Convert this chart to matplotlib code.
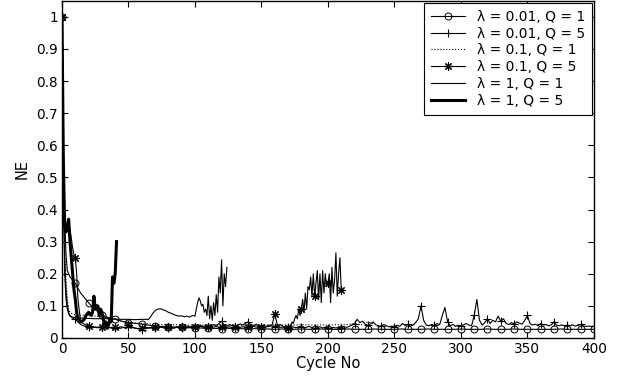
import numpy as np
import matplotlib
matplotlib.use("Agg")
import matplotlib.pyplot as plt

plt.rcParams['font.family'] = ['DejaVu Sans']

# lambda = 0.01, Q = 1
a_x = [0, 1, 2, 3, 4, 5, 6, 8, 10, 12, 14, 16, 18, 20, 22, 24, 26, 28, 30, 33, 36, 40, 45]
a_y = [1.0, 0.62, 0.38, 0.26, 0.21, 0.20, 0.19, 0.18, 0.17, 0.155, 0.14, 0.13, 0.12, 0.11,
       0.10, 0.092, 0.085, 0.078, 0.072, 0.066, 0.062, 0.058, 0.052]
a_x += list(range(50, 401, 5))
a_y += [0.048, 0.046, 0.043, 0.04, 0.037, 0.036, 0.035, 0.034, 0.033, 0.032,
        0.031, 0.031, 0.030, 0.030, 0.029, 0.030, 0.029, 0.029, 0.028, 0.029,
        0.028, 0.028, 0.027, 0.028, 0.027, 0.027, 0.028, 0.027, 0.027, 0.028,
        0.027, 0.027, 0.027, 0.028, 0.027, 0.027, 0.027, 0.028, 0.027, 0.027,
        0.027, 0.028, 0.027, 0.027, 0.027, 0.028, 0.027, 0.027, 0.027, 0.027,
        0.028, 0.027, 0.027, 0.027, 0.028, 0.027, 0.027, 0.027, 0.028, 0.027,
        0.027, 0.027, 0.027, 0.027, 0.027, 0.028, 0.027, 0.027, 0.027, 0.027, 0.027]

# lambda = 0.01, Q = 5
b_x = [0, 1, 2, 3, 4, 5, 6, 8] + list(range(10, 401, 2))
b_y = [1.0, 0.45, 0.2, 0.12, 0.09, 0.075, 0.068, 0.062,
       0.058, 0.05, 0.042, 0.038, 0.036,
       0.034, 0.033, 0.035, 0.032, 0.034,
       0.033, 0.031, 0.034, 0.032, 0.033,
       0.030, 0.032, 0.035, 0.033, 0.031,
       0.034, 0.036, 0.032, 0.030, 0.028,
       0.026, 0.030, 0.033, 0.031, 0.034,
       0.032, 0.030, 0.034, 0.036, 0.033,
       0.031, 0.035, 0.030, 0.033, 0.036,
       0.030, 0.032, 0.038, 0.034, 0.031,
       0.033, 0.036, 0.040, 0.035, 0.038,
       0.034, 0.037, 0.042, 0.039, 0.045,
       0.052, 0.040, 0.037, 0.042, 0.038,
       0.035, 0.039, 0.044, 0.040, 0.046,
       0.050, 0.041, 0.038, 0.043, 0.036,
       0.034, 0.038, 0.036, 0.040, 0.037,
       0.035, 0.039, 0.042, 0.037, 0.034,
       0.033, 0.036, 0.034, 0.032, 0.035,
       0.033, 0.031, 0.034, 0.036, 0.032,
       0.030, 0.033, 0.035, 0.031, 0.034,
       0.032, 0.030, 0.033, 0.031, 0.034,
       0.032, 0.035, 0.033, 0.036, 0.040,
       0.045, 0.058, 0.048, 0.052, 0.043,
       0.040, 0.044, 0.050, 0.041, 0.038,
       0.036, 0.042, 0.038, 0.035, 0.037,
       0.034, 0.040, 0.036, 0.045, 0.039,
       0.042, 0.037, 0.040, 0.048, 0.060,
       0.100, 0.055, 0.040, 0.038, 0.042,
       0.039, 0.045, 0.041, 0.070, 0.095,
       0.050, 0.038, 0.042, 0.036, 0.040,
       0.037, 0.041, 0.045, 0.040, 0.038,
       0.070, 0.120, 0.055, 0.040, 0.048,
       0.060, 0.045, 0.055, 0.050, 0.068,
       0.052, 0.060, 0.045, 0.042, 0.048,
       0.044, 0.050, 0.046, 0.043, 0.055,
       0.070, 0.045, 0.040, 0.043, 0.038,
       0.045, 0.040, 0.042, 0.038, 0.041,
       0.050, 0.040, 0.038, 0.041, 0.037,
       0.040, 0.038, 0.041, 0.037, 0.039,
       0.042, 0.038, 0.036, 0.037, 0.036,
       0.036]

# lambda = 0.1, Q = 1
c_x = [0, 1, 2, 3, 4, 5, 6, 8] + list(range(10, 236, 5))
c_y = [1.0, 0.55, 0.3, 0.18, 0.12, 0.09, 0.08, 0.075,
       0.072, 0.071, 0.07, 0.068, 0.066, 0.064, 0.058, 0.052, 0.048, 0.046,
       0.045, 0.044, 0.043, 0.042, 0.042, 0.041, 0.042, 0.040, 0.041, 0.040,
       0.041, 0.040, 0.040, 0.041, 0.040, 0.040, 0.041, 0.040, 0.040, 0.041,
       0.040, 0.040, 0.041, 0.040, 0.042, 0.041, 0.040, 0.041, 0.040, 0.041,
       0.041, 0.042, 0.045, 0.041, 0.050, 0.044]

# lambda = 0.1, Q = 5
d_x = list(range(0, 12)) + list(range(12, 170, 2)) + list(range(170, 211))
d_y = [1.0, 0.6, 0.36, 0.33, 0.35, 0.36, 0.34, 0.31, 0.28, 0.26, 0.25, 0.2,
       0.12, 0.05, 0.045, 0.04,
       0.036, 0.035, 0.033, 0.034, 0.032,
       0.033, 0.031, 0.034, 0.032, 0.031,
       0.033, 0.032, 0.030, 0.033, 0.031,
       0.040, 0.034, 0.031, 0.030, 0.029,
       0.031, 0.033, 0.030, 0.032, 0.031,
       0.033, 0.031, 0.034, 0.032, 0.030,
       0.033, 0.031, 0.032, 0.034, 0.031,
       0.033, 0.035, 0.032, 0.034, 0.036,
       0.035, 0.033, 0.036, 0.034, 0.032,
       0.035, 0.037, 0.034, 0.036, 0.033,
       0.034, 0.036, 0.033, 0.035, 0.032,
       0.034, 0.036, 0.033, 0.035, 0.034,
       0.033, 0.035, 0.036, 0.034, 0.035,
       0.034, 0.033, 0.035, 0.036, 0.040,
       0.075, 0.040, 0.033, 0.034, 0.032,
       0.032, 0.035, 0.04, 0.05, 0.045, 0.06, 0.07, 0.06, 0.09, 0.07,
       0.09, 0.12, 0.08, 0.14, 0.09, 0.16, 0.15, 0.19, 0.13, 0.20,
       0.13, 0.17, 0.21, 0.12, 0.20, 0.11, 0.21, 0.14, 0.20, 0.16,
       0.17, 0.20, 0.11, 0.22, 0.14, 0.18, 0.265, 0.13, 0.20, 0.25,
       0.15]

# lambda = 1, Q = 1
f_x = [0, 1, 2, 3, 4, 5, 6, 8, 10, 15, 20, 25, 30, 35, 40, 45, 50, 55, 60, 65,
       66, 68, 70, 72, 74, 76, 78, 80, 82, 84, 86, 88, 90, 92, 94, 96, 98, 100] + list(range(101, 125))
f_y = [1.0, 0.5, 0.25, 0.15, 0.1, 0.08, 0.07, 0.065, 0.063, 0.062, 0.061, 0.06, 0.06,
       0.06, 0.059, 0.058, 0.058, 0.057, 0.058, 0.058,
       0.062, 0.075, 0.085, 0.09, 0.091, 0.088, 0.085, 0.08, 0.077, 0.073, 0.07, 0.068,
       0.069, 0.066, 0.068, 0.065, 0.07, 0.068,
       0.09, 0.11, 0.125, 0.115, 0.1, 0.105, 0.08, 0.09, 0.07, 0.13, 0.06, 0.1,
       0.055, 0.11, 0.07, 0.135, 0.08, 0.19, 0.14, 0.243, 0.1, 0.2, 0.16, 0.22]

# lambda = 1, Q = 5
e_x = list(range(0, 42))
e_y = [1.0, 0.55, 0.35, 0.33, 0.35, 0.37, 0.3, 0.25, 0.2, 0.15, 0.12, 0.08,
       0.06, 0.055, 0.05, 0.052, 0.055, 0.06, 0.07, 0.075, 0.08, 0.075, 0.07,
       0.08, 0.13, 0.09, 0.1, 0.1, 0.07, 0.09, 0.08, 0.06, 0.04, 0.05, 0.03,
       0.04, 0.06, 0.05, 0.19, 0.17, 0.2, 0.3]

labels = ['\u03bb = 0.01, Q = 1', '\u03bb = 0.01, Q = 5', '\u03bb = 0.1, Q = 1',
          '\u03bb = 0.1, Q = 5', '\u03bb = 1, Q = 1', '\u03bb = 1, Q = 5']


def every10(xs):
    # marker on every 10th cycle
    return [i for i, v in enumerate(xs) if v % 10 == 0]


fig = plt.figure(figsize=(6.17, 3.77), dpi=100)
ax = fig.add_axes([0.1005, 0.1035, 0.862, 0.8945])

ax.plot(a_x, a_y, 'k-', lw=0.8, marker='o', ms=5, mfc='none', mew=0.7,
        markevery=every10(a_x), label=labels[0])
ax.plot(b_x, b_y, 'k-', lw=0.8, marker='+', ms=6, mew=0.8,
        markevery=every10(b_x), label=labels[1])
ax.plot(c_x, c_y, 'k:', lw=0.8, label=labels[2])
ax.plot(d_x, d_y, 'k-', lw=0.8, marker=(8, 2, 0), ms=6, mew=0.8,
        markevery=every10(d_x), label=labels[3])
ax.plot(f_x, f_y, 'k-', lw=0.8, label=labels[4])
ax.plot(e_x, e_y, 'k-', lw=2.2, label=labels[5])

ax.set_xlim(0, 400)
ax.set_ylim(0, 1.05)
ax.set_xticks(np.arange(0, 401, 50))
ax.set_yticks(np.arange(0, 1.01, 0.1))
ax.set_yticklabels(['0', '0.1', '0.2', '0.3', '0.4', '0.5', '0.6', '0.7', '0.8', '0.9', '1'])
ax.tick_params(direction='in', top=True, right=True, length=4, labelsize=9.8, width=0.8, pad=3)
for s in ax.spines.values():
    s.set_linewidth(1.0)
ax.set_xlabel('Cycle No', fontsize=10.5, labelpad=0)
ax.set_ylabel('NE', fontsize=10.5, labelpad=5)

leg = ax.legend(loc='upper right', fontsize=10, fancybox=False, edgecolor='k',
                framealpha=1, borderaxespad=0.15, handlelength=2.5, labelspacing=0.2,
                borderpad=0.5, handletextpad=0.8)
leg.get_frame().set_linewidth(0.8)
for h in leg.legend_handles:
    h.set_markevery([1])

fig.savefig('out.png', dpi=100)
